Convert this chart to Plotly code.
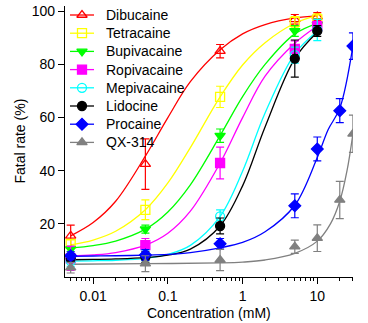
import plotly.graph_objects as go

# ---------------- data ----------------
names = ["Dibucaine", "Tetracaine", "Bupivacaine", "Ropivacaine",
         "Mepivacaine", "Lidocine", "Procaine", "QX-314"]
colors = ["#FF0000", "#FFFF00", "#00FF00", "#FF00FF",
          "#00FFFF", "#000000", "#0000FF", "#808080"]
symbols = ["triangle-up-open", "square-open", "triangle-down", "square",
           "circle-open", "circle", "diamond", "triangle-up"]

# measured points (concentration mM)
x_pts_short = [0.005, 0.05, 0.5, 5, 10]
x_pts_long = [0.005, 0.05, 0.5, 5, 10, 20, 30]

dibucaine_y = [15.5, 42.5, 85.0, 97.0, 98.0]
dibucaine_e = [4.0, 9.5, 2.5, 1.8, 1.5]
tetracaine_y = [12.5, 25.3, 67.8, 96.0, 97.0]
tetracaine_e = [1.5, 3.7, 4.0, 2.0, 2.0]
bupivacaine_y = [10.5, 18.0, 53.2, 92.6, 95.0]
bupivacaine_e = [1.0, 1.5, 2.5, 2.0, 2.0]
ropivacaine_y = [7.0, 12.0, 42.9, 85.9, 94.4]
ropivacaine_e = [4.5, 2.5, 6.0, 3.0, 2.5]
mepivacaine_y = [6.0, 8.2, 22.8, 83.5, 93.0]
mepivacaine_e = [2.0, 2.0, 2.5, 3.0, 4.0]
lidocine_y = [7.0, 7.5, 19.2, 82.2, 92.6]
lidocine_e = [1.0, 2.0, 3.0, 7.0, 2.0]
procaine_y = [8.0, 8.3, 12.5, 26.8, 48.2, 62.6, 86.9]
procaine_e = [1.5, 2.0, 2.0, 4.5, 4.5, 4.5, 5.0]
qx314_y = [3.5, 5.0, 6.4, 11.4, 14.6, 29.0, 53.9]
qx314_e = [2.0, 3.0, 4.0, 2.5, 5.0, 7.0, 7.0]

# fitted curves
x_fit_short = [0.005, 0.01, 0.02, 0.05, 0.1, 0.2, 0.5, 1, 2, 5, 10]
dibucaine_fit = [15.5, 20.5, 28.5, 45.5, 60.0, 73.5, 85.5, 91.5, 95.0, 97.5, 98.3]
tetracaine_fit = [12.1, 13.9, 17.2, 25.3, 35.4, 48.7, 67.8, 79.8, 88.2, 95.5, 98.5]
bupivacaine_fit = [10.9, 11.8, 13.5, 18.0, 24.5, 34.7, 53.2, 67.9, 80.0, 91.5, 95.5]
ropivacaine_fit = [7.9, 8.3, 9.2, 12.0, 16.5, 24.8, 42.9, 60.0, 75.6, 88.0, 94.5]
mepivacaine_fit = [6.0, 6.1, 6.3, 7.0, 8.5, 11.9, 22.8, 39.8, 61.7, 84.0, 92.5]
lidocine_fit = [6.5, 6.6, 6.8, 7.3, 8.2, 10.5, 19.2, 34.3, 56.5, 82.2, 92.1]
x_fit_procaine = [0.005, 0.01, 0.02, 0.05, 0.1, 0.2, 0.5, 1, 2, 5, 10, 14, 20, 30]
procaine_fit = [7.8, 7.9, 8.0, 8.2, 8.5, 9.2, 11.0, 13.0, 17.0, 27.0, 45.0, 55.5, 63.5, 87.0]
x_fit_qx = [0.005, 0.05, 0.5, 1, 2, 5, 10, 15, 20, 25, 30]
qx314_fit = [4.8, 5.0, 5.3, 5.6, 6.4, 8.9, 13.5, 20.0, 28.5, 40.0, 54.0]

y_ticks = [20, 40, 60, 80, 100]
x_ticks = [0.01, 0.1, 1, 10]
x_tick_labels = ["0.01", "0.1", "1", "10"]
x_minor = [0.005, 0.006, 0.007, 0.008, 0.009,
           0.02, 0.03, 0.04, 0.05, 0.06, 0.07, 0.08, 0.09,
           0.2, 0.3, 0.4, 0.5, 0.6, 0.7, 0.8, 0.9,
           2, 3, 4, 5, 6, 7, 8, 9, 20, 30]
x_title = "Concentration (mM)"
y_title = "Fatal rate (%)"

series = [
    (x_pts_short, dibucaine_y, dibucaine_e, x_fit_short, dibucaine_fit),
    (x_pts_short, tetracaine_y, tetracaine_e, x_fit_short, tetracaine_fit),
    (x_pts_short, bupivacaine_y, bupivacaine_e, x_fit_short, bupivacaine_fit),
    (x_pts_short, ropivacaine_y, ropivacaine_e, x_fit_short, ropivacaine_fit),
    (x_pts_short, mepivacaine_y, mepivacaine_e, x_fit_short, mepivacaine_fit),
    (x_pts_short, lidocine_y, lidocine_e, x_fit_short, lidocine_fit),
    (x_pts_long, procaine_y, procaine_e, x_fit_procaine, procaine_fit),
    (x_pts_long, qx314_y, qx314_e, x_fit_qx, qx314_fit),
]

# ---------------- layout constants ----------------
W, H = 368, 323
ML, MR, MT, MB = 65, 15, 6, 46
PW, PH = W - ML - MR, H - MT - MB
FONT = "Arial, Liberation Sans, sans-serif"

fig = go.Figure()
for (xp, yp, ep, xf, yf), name, col, sym in zip(series, names, colors, symbols):
    fig.add_trace(go.Scatter(x=xf, y=yf, mode="lines", showlegend=False,
                             line=dict(color=col, width=1.3, shape="spline", smoothing=1.0),
                             hoverinfo="skip"))
for (xp, yp, ep, xf, yf), name, col, sym in zip(series, names, colors, symbols):
    fig.add_trace(go.Scatter(x=xp, y=yp, mode="markers", showlegend=False, name=name,
                             marker=dict(symbol=sym, color=col, size=9,
                                         line=dict(color=col, width=1.3)),
                             error_y=dict(type="data", array=ep, visible=True,
                                          color=col, thickness=1.2, width=4)))

# manual legend drawn on an overlay axis measured in pixels of the plot area
row0, row_step = 9.0, 18.2
line_x0, line_x1, text_x = 5, 29, 39
for i, (name, col, sym) in enumerate(zip(names, colors, symbols)):
    ry = row0 + row_step * i
    fig.add_trace(go.Scatter(x=[line_x0, line_x1], y=[ry, ry], mode="lines",
                             xaxis="x2", yaxis="y2", showlegend=False, hoverinfo="skip",
                             line=dict(color=col, width=1.3)))
    fig.add_trace(go.Scatter(x=[(line_x0 + line_x1) / 2], y=[ry], mode="markers",
                             xaxis="x2", yaxis="y2", showlegend=False, hoverinfo="skip",
                             marker=dict(symbol=sym, color=col, size=9,
                                         line=dict(color=col, width=1.3))))
    fig.add_annotation(x=text_x, y=ry, xref="x2", yref="y2", text=name,
                       showarrow=False, xanchor="left", yanchor="middle",
                       font=dict(family=FONT, size=14, color="black"))

# axis titles placed as annotations (pixel offsets from the plot area)
fig.add_annotation(x=0.5, y=-36 / PH, xref="paper", yref="paper", text=x_title,
                   showarrow=False, xanchor="center", yanchor="middle",
                   font=dict(family=FONT, size=14, color="black"))
fig.add_annotation(x=-46 / PW, y=0.5, xref="paper", yref="paper", text=y_title,
                   showarrow=False, xanchor="center", yanchor="middle", textangle=-90,
                   font=dict(family=FONT, size=14, color="black"))

fig.update_layout(
    width=W, height=H,
    margin=dict(l=ML, r=MR, t=MT, b=MB, autoexpand=False),
    paper_bgcolor="white", plot_bgcolor="white",
    font=dict(family=FONT, size=14, color="black"),
    showlegend=False,
    xaxis=dict(type="log", range=[-2.377, 1.478], automargin=False,
               tickvals=x_ticks, ticktext=x_tick_labels,
               ticks="outside", ticklen=6, tickwidth=1.2, tickcolor="black",
               showline=True, linecolor="black", linewidth=1.3,
               showgrid=False, zeroline=False,
               minor=dict(tickvals=x_minor, ticks="outside", ticklen=3,
                          tickwidth=1, tickcolor="black", showgrid=False)),
    yaxis=dict(range=[0, 102], tickvals=y_ticks, automargin=False,
               ticks="outside", ticklen=6, tickwidth=1.2, tickcolor="black",
               showline=True, linecolor="black", linewidth=1.3,
               showgrid=False, zeroline=False),
    xaxis2=dict(overlaying="x", range=[0, PW], visible=False, fixedrange=True),
    yaxis2=dict(overlaying="y", range=[PH, 0], visible=False, fixedrange=True),
)

fig.write_html("out.html", config=dict(displayModeBar=False),
               post_script="document.body.style.margin='0';document.body.style.padding='0';")
